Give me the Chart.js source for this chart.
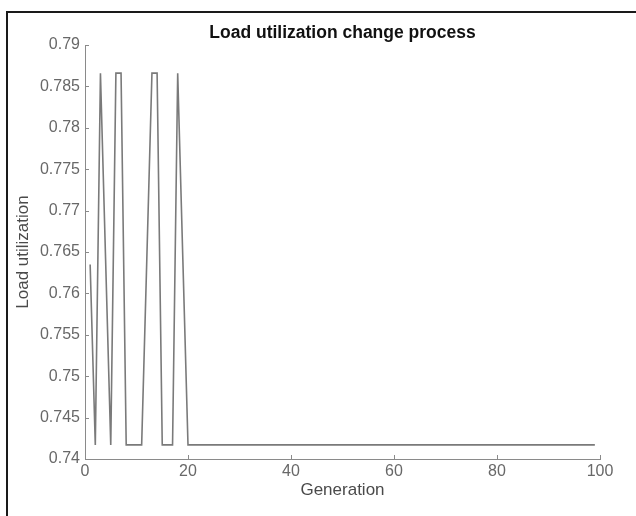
<!DOCTYPE html>
<html lang="en">
<head>
<meta charset="UTF-8" />
<title>Load utilization change process</title>
<script src="https://cdn.jsdelivr.net/npm/chart.js"></script>
<style>
  body { margin: 0; padding: 0; background: #ffffff; }
  .frame {
    position: absolute;
    left: 6px;
    top: 11px;
    width: 640px;
    height: 515px;
    border-left: 2px solid #1a1a1a;
    border-top: 2px solid #1a1a1a;
  }
  .wrap { position: absolute; left: 0; top: 0; width: 636px; height: 516px; }
</style>
</head>
<body>
<div class="frame"></div>
<div class="wrap"><canvas id="chart" width="636" height="516"></canvas></div>
<script>
// generation number on the x axis
const generations = [
  1, 2, 3, 4, 5, 6, 7, 8, 9, 10,
  11, 12, 13, 14, 15, 16, 17, 18, 19, 20,
  21, 22, 23, 24, 25, 26, 27, 28, 29, 30,
  31, 32, 33, 34, 35, 36, 37, 38, 39, 40,
  41, 42, 43, 44, 45, 46, 47, 48, 49, 50,
  51, 52, 53, 54, 55, 56, 57, 58, 59, 60,
  61, 62, 63, 64, 65, 66, 67, 68, 69, 70,
  71, 72, 73, 74, 75, 76, 77, 78, 79, 80,
  81, 82, 83, 84, 85, 86, 87, 88, 89, 90,
  91, 92, 93, 94, 95, 96, 97, 98, 99
];
// load utilization per generation
const loadUtilization = [
  0.7635, 0.7417, 0.7866, 0.7641, 0.7417, 0.7866, 0.7866, 0.7417, 0.7417, 0.7417,
  0.7417, 0.7641, 0.7866, 0.7866, 0.7417, 0.7417, 0.7417, 0.7866, 0.7641, 0.7417,
  0.7417, 0.7417, 0.7417, 0.7417, 0.7417, 0.7417, 0.7417, 0.7417, 0.7417, 0.7417,
  0.7417, 0.7417, 0.7417, 0.7417, 0.7417, 0.7417, 0.7417, 0.7417, 0.7417, 0.7417,
  0.7417, 0.7417, 0.7417, 0.7417, 0.7417, 0.7417, 0.7417, 0.7417, 0.7417, 0.7417,
  0.7417, 0.7417, 0.7417, 0.7417, 0.7417, 0.7417, 0.7417, 0.7417, 0.7417, 0.7417,
  0.7417, 0.7417, 0.7417, 0.7417, 0.7417, 0.7417, 0.7417, 0.7417, 0.7417, 0.7417,
  0.7417, 0.7417, 0.7417, 0.7417, 0.7417, 0.7417, 0.7417, 0.7417, 0.7417, 0.7417,
  0.7417, 0.7417, 0.7417, 0.7417, 0.7417, 0.7417, 0.7417, 0.7417, 0.7417, 0.7417,
  0.7417, 0.7417, 0.7417, 0.7417, 0.7417, 0.7417, 0.7417, 0.7417, 0.7417
];
const xTickValues = [0, 20, 40, 60, 80, 100];
const yTickValues = [0.74, 0.745, 0.75, 0.755, 0.76, 0.765, 0.77, 0.775, 0.78, 0.785, 0.79];

const axisColor = "#8a8a8a";
const labelColor = "#686868";
const fontFamily = "'Liberation Sans', Arial, sans-serif";

// matlab style ticks pointing into the plot
const innerTicks = {
  id: "innerTicks",
  afterDraw(chart) {
    const ctx = chart.ctx;
    const xs = chart.scales.x;
    const ys = chart.scales.y;
    const area = chart.chartArea;
    ctx.save();
    ctx.strokeStyle = axisColor;
    ctx.lineWidth = 1;
    ctx.beginPath();
    xs.ticks.forEach((t) => {
      const px = Math.round(xs.getPixelForValue(t.value)) + 0.5;
      ctx.moveTo(px, area.bottom);
      ctx.lineTo(px, area.bottom - 4);
    });
    ys.ticks.forEach((t) => {
      const py = Math.round(ys.getPixelForValue(t.value)) + 0.5;
      ctx.moveTo(area.left, py);
      ctx.lineTo(area.left + 4, py);
    });
    ctx.stroke();
    ctx.restore();
  },
};

new Chart(document.getElementById("chart"), {
  type: "line",
  data: {
    datasets: [
      {
        data: generations.map((g, i) => ({ x: g, y: loadUtilization[i] })),
        borderColor: "#7a7a7a",
        borderWidth: 1.6,
        pointRadius: 0,
        tension: 0,
        fill: false,
      },
    ],
  },
  options: {
    responsive: false,
    animation: false,
    layout: { padding: { left: 10, right: 36, top: 20, bottom: 16 } },
    plugins: {
      legend: { display: false },
      tooltip: { enabled: false },
      title: {
        display: true,
        fullSize: false,
        text: "Load utilization change process",
        color: "#111111",
        font: { family: fontFamily, size: 17.5, weight: "bold" },
        padding: { top: 3, bottom: 1 },
      },
    },
    scales: {
      x: {
        type: "linear",
        min: 0,
        max: 100,
        afterBuildTicks: (scale) => {
          scale.ticks = xTickValues.map((v) => ({ value: v }));
        },
        afterFit: (scale) => {
          scale.height = 41;
        },
        grid: { display: false, drawTicks: false },
        border: { display: true, color: axisColor, width: 1 },
        ticks: {
          color: labelColor,
          padding: 3,
          maxRotation: 0,
          font: { family: fontFamily, size: 16 },
        },
        title: {
          display: true,
          text: "Generation",
          color: "#4a4a4a",
          font: { family: fontFamily, size: 17 },
          padding: { top: 0, bottom: -1 },
        },
      },
      y: {
        type: "linear",
        min: 0.74,
        max: 0.79,
        afterBuildTicks: (scale) => {
          scale.ticks = yTickValues.map((v) => ({ value: v }));
        },
        afterFit: (scale) => {
          scale.width = 75;
        },
        grid: { display: false, drawTicks: false },
        border: { display: true, color: axisColor, width: 1 },
        ticks: {
          color: labelColor,
          padding: 5,
          font: { family: fontFamily, size: 16 },
          callback: (v) => String(parseFloat(Number(v).toFixed(3))),
        },
        title: {
          display: true,
          text: "Load utilization",
          color: "#4a4a4a",
          font: { family: fontFamily, size: 17 },
          padding: { top: 3, bottom: 2 },
        },
      },
    },
  },
  plugins: [innerTicks],
});
</script>
</body>
</html>
